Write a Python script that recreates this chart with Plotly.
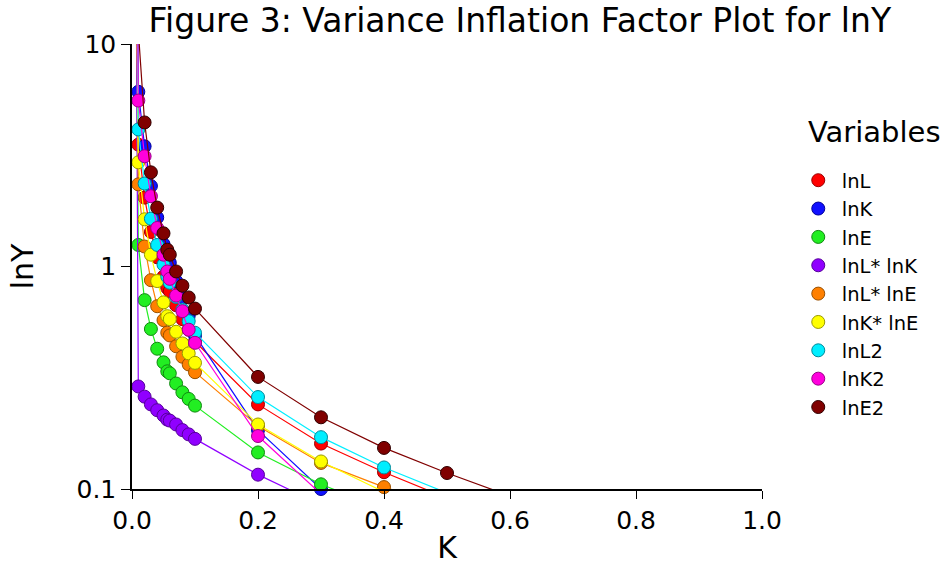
import plotly.graph_objects as go

# Ridge parameter K
K = [0.0, 0.01, 0.02, 0.03, 0.04, 0.05, 0.056, 0.06, 0.07, 0.08, 0.09, 0.1,
     0.2, 0.3, 0.4, 0.5, 0.6, 0.7, 0.8, 0.9, 1.0]

lnL = [8000, 3.53, 2.04, 1.43, 1.10, 0.90, 0.80, 0.775, 0.67, 0.58, 0.52, 0.46,
       0.24, 0.16, 0.119, 0.091, 0.072, 0.058, 0.048, 0.040, 0.034]
lnK = [20000, 6.1, 3.47, 2.30, 1.66, 1.26, 1.10, 1.04, 0.86, 0.72, 0.60, 0.49,
       0.184, 0.100, 0.066, 0.048, 0.037, 0.030, 0.025, 0.021, 0.018]
lnE = [3000, 1.25, 0.706, 0.524, 0.427, 0.371, 0.338, 0.331, 0.298, 0.272, 0.254, 0.237,
       0.146, 0.105, 0.081, 0.066, 0.055, 0.047, 0.041, 0.036, 0.032]
lnLlnK = [100000, 0.289, 0.260, 0.240, 0.226, 0.214, 0.205, 0.203, 0.195, 0.184, 0.176, 0.168,
          0.116, 0.085, 0.066, 0.053, 0.044, 0.037, 0.032, 0.028, 0.025]
lnLlnE = [5000, 2.34, 1.23, 0.868, 0.663, 0.574, 0.504, 0.49, 0.438, 0.393, 0.363, 0.335,
          0.192, 0.131, 0.102, 0.083, 0.069, 0.059, 0.051, 0.045, 0.040]
lnKlnE = [6000, 2.94, 1.63, 1.13, 0.86, 0.69, 0.598, 0.58, 0.509, 0.451, 0.407, 0.369,
          0.195, 0.133, 0.097, 0.075, 0.060, 0.050, 0.042, 0.036, 0.032]
lnL2 = [9000, 4.13, 2.36, 1.64, 1.25, 1.02, 0.90, 0.845, 0.73, 0.64, 0.568, 0.504,
        0.259, 0.171, 0.125, 0.096, 0.077, 0.063, 0.053, 0.045, 0.039]
lnK2 = [15000, 5.57, 3.13, 2.07, 1.49, 1.13, 0.95, 0.88, 0.74, 0.63, 0.52, 0.454,
        0.173, 0.095, 0.065, 0.047, 0.036, 0.029, 0.024, 0.020, 0.017]
lnE2 = [4000, 11.5, 4.44, 2.65, 1.84, 1.41, 1.19, 1.13, 0.95, 0.82, 0.726, 0.647,
        0.319, 0.21, 0.153, 0.118, 0.093, 0.075, 0.062, 0.052, 0.045]

names = ["lnL", "lnK", "lnE", "lnL* lnK", "lnL* lnE", "lnK* lnE", "lnL2", "lnK2", "lnE2"]
series = [lnL, lnK, lnE, lnLlnK, lnLlnE, lnKlnE, lnL2, lnK2, lnE2]
colors = ["#FF0000", "#1010FF", "#22EE22", "#9000FF", "#FF8000", "#FFFF00",
          "#00EEFF", "#FF00DD", "#800000"]
outlines = ["#990000", "#000099", "#118811", "#550099", "#995000", "#999900",
            "#008899", "#990088", "#300000"]

Y_MIN, Y_MAX = 0.1, 10

fig = go.Figure()
for name, vals, c, oc in zip(names, series, colors, outlines):
    fig.add_trace(go.Scatter(x=K, y=vals, mode="lines", line=dict(color=c, width=1.2),
                             showlegend=False, hoverinfo="skip"))
    kx = [k for k, v in zip(K, vals) if Y_MIN <= v <= Y_MAX]
    vy = [v for v in vals if Y_MIN <= v <= Y_MAX]
    fig.add_trace(go.Scatter(x=kx, y=vy, mode="markers", name=name,
                             cliponaxis=False,
                             marker=dict(size=13, color=c, line=dict(color=oc, width=1))))

font = "DejaVu Sans, Arial, sans-serif"
fig.update_layout(
    width=952, height=565,
    margin=dict(l=132, r=190, t=44, b=76),
    paper_bgcolor="white", plot_bgcolor="white",
    font=dict(family=font, color="black"),
    title=dict(text="Figure 3: Variance Inflation Factor Plot for lnY",
               font=dict(size=33, family=font), x=0.546, xanchor="center",
               y=0.9646, yanchor="middle", xref="container", yref="container"),
    legend=dict(font=dict(size=19.5), x=1.052, xanchor="left", y=0.737, yanchor="top",
                itemwidth=37, tracegroupgap=0, bgcolor="rgba(0,0,0,0)"),
    annotations=[dict(text="Variables", x=1.0698, y=0.802, xref="paper", yref="paper",
                      xanchor="left", yanchor="middle", showarrow=False,
                      font=dict(size=29))],
    xaxis=dict(range=[0, 1], tickvals=[0, 0.2, 0.4, 0.6, 0.8, 1.0], tickformat=".1f",
               showline=True, linecolor="black", linewidth=1.5, ticks="outside",
               ticklen=8, tickcolor="black", showgrid=False, zeroline=False,
               tickfont=dict(size=25), automargin=False,
               title=dict(text="K", font=dict(size=30), standoff=12)),
    yaxis=dict(type="log", range=[-1, 1], tickvals=[0.1, 1, 10], ticktext=["0.1", "1", "10"],
               showline=True, linecolor="black", linewidth=1.5, ticks="outside",
               ticklen=9, tickcolor="black", showgrid=False, zeroline=False,
               tickfont=dict(size=25), automargin=False,
               title=dict(text="lnY", font=dict(size=30), standoff=34)),
)

fig.write_html("out.html", config={"displayModeBar": False},
               post_script="document.body.style.margin='0';")
